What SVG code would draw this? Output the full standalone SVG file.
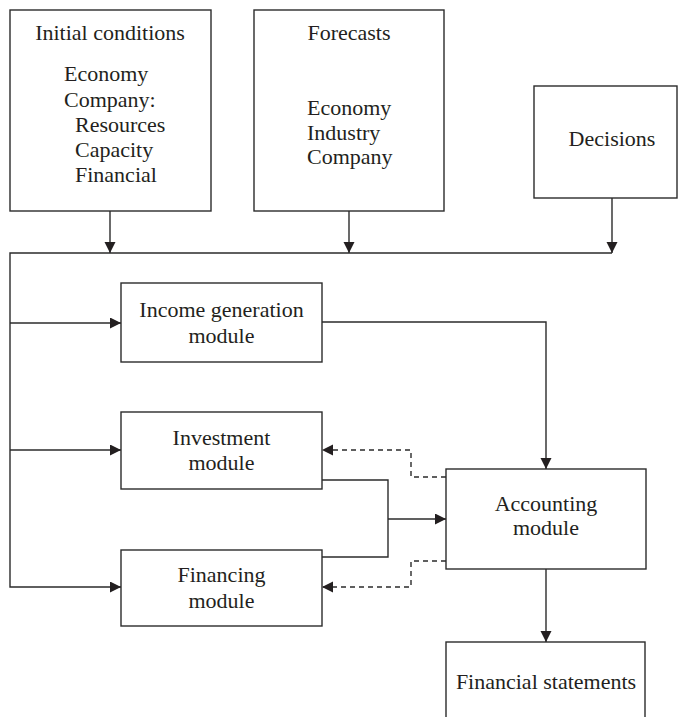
<svg xmlns="http://www.w3.org/2000/svg" width="678" height="717" viewBox="0 0 678 717">
  <style>
    .box { fill: #ffffff; stroke: #2b2b2b; stroke-width: 1.4; }
    .lbl { font-family: "Liberation Serif", "Times New Roman", serif; font-size: 22px; fill: #231f20; }
    .mid { text-anchor: middle; }
    .wire { fill: none; stroke: #2b2b2b; stroke-width: 1.4; }
    .dash { stroke-dasharray: 5 4; }
  </style>
  <defs>
    <marker id="arrow" markerUnits="userSpaceOnUse" markerWidth="12" markerHeight="12" refX="11" refY="5.5" orient="auto">
      <path d="M0,0 L11,5.5 L0,11 Z" fill="#231f20"/>
    </marker>
  </defs>

  <rect width="678" height="717" fill="#ffffff"/>

  <!-- input boxes -->
  <g id="initial-conditions">
    <rect class="box" x="10" y="10" width="201" height="201"/>
    <text class="lbl mid" x="110" y="40">Initial conditions</text>
    <text class="lbl" x="64" y="81">Economy</text>
    <text class="lbl" x="64" y="107">Company:</text>
    <text class="lbl" x="75" y="132">Resources</text>
    <text class="lbl" x="75" y="157">Capacity</text>
    <text class="lbl" x="75" y="182">Financial</text>
  </g>

  <g id="forecasts">
    <rect class="box" x="254" y="10" width="190" height="201"/>
    <text class="lbl mid" x="349" y="40">Forecasts</text>
    <text class="lbl" x="307" y="115">Economy</text>
    <text class="lbl" x="307" y="140">Industry</text>
    <text class="lbl" x="307" y="164">Company</text>
  </g>

  <g id="decisions">
    <rect class="box" x="534" y="86" width="143" height="112"/>
    <text class="lbl mid" x="612" y="146">Decisions</text>
  </g>

  <!-- modules -->
  <g id="income-generation">
    <rect class="box" x="121" y="283" width="201" height="79"/>
    <text class="lbl mid" x="221.5" y="317">Income generation</text>
    <text class="lbl mid" x="221.5" y="343">module</text>
  </g>

  <g id="investment">
    <rect class="box" x="121" y="412" width="201" height="77"/>
    <text class="lbl mid" x="221.5" y="445">Investment</text>
    <text class="lbl mid" x="221.5" y="470">module</text>
  </g>

  <g id="financing">
    <rect class="box" x="121" y="550" width="201" height="76"/>
    <text class="lbl mid" x="221.5" y="582">Financing</text>
    <text class="lbl mid" x="221.5" y="608">module</text>
  </g>

  <g id="accounting">
    <rect class="box" x="446" y="469" width="200" height="100"/>
    <text class="lbl mid" x="546" y="511">Accounting</text>
    <text class="lbl mid" x="546" y="535">module</text>
  </g>

  <g id="financial-statements">
    <rect class="box" x="446" y="642" width="199" height="90"/>
    <text class="lbl mid" x="546" y="689">Financial statements</text>
  </g>

  <!-- connectors -->
  <g id="connectors">
    <!-- inputs onto the common bus -->
    <path class="wire" d="M110,211 V253" marker-end="url(#arrow)"/>
    <path class="wire" d="M349,211 V253" marker-end="url(#arrow)"/>
    <path class="wire" d="M612,198 V253" marker-end="url(#arrow)"/>
    <path class="wire" d="M612,253 H10 V587 H121" marker-end="url(#arrow)"/>
    <path class="wire" d="M10,323 H121" marker-end="url(#arrow)"/>
    <path class="wire" d="M10,450 H121" marker-end="url(#arrow)"/>

    <!-- module outputs into accounting -->
    <path class="wire" d="M322,322 H546 V469" marker-end="url(#arrow)"/>
    <path class="wire" d="M322,480 H388 V557 H322"/>
    <path class="wire" d="M388,519 H446" marker-end="url(#arrow)"/>

    <!-- feedback from accounting -->
    <path class="wire dash" d="M446,477 H411 V450 H322" marker-end="url(#arrow)"/>
    <path class="wire dash" d="M446,561 H411 V587 H322" marker-end="url(#arrow)"/>

    <!-- accounting to statements -->
    <path class="wire" d="M546,569 V642" marker-end="url(#arrow)"/>
  </g>
</svg>
